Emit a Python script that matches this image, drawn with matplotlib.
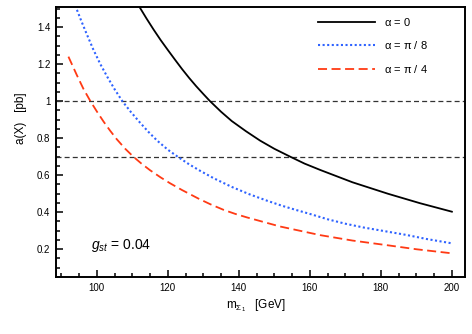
import numpy as np
import matplotlib
matplotlib.use('Agg')
import matplotlib.pyplot as plt
from matplotlib.ticker import MultipleLocator, FuncFormatter

plt.rcParams['font.family'] = ['Liberation Sans', 'DejaVu Sans']
plt.rcParams['mathtext.fontset'] = 'custom'
plt.rcParams['mathtext.rm'] = 'Liberation Sans'
plt.rcParams['mathtext.it'] = 'Liberation Sans:italic'

# curves (mass in GeV, a(X) in pb)
m_a0 = [112.0, 114.0, 116.0, 118.0, 120.0, 122.0, 124.0, 126.0, 128.0, 130.0, 131.8, 135.0, 138.0,
        142.0, 146.0, 150.0, 154.5, 158.5, 163.0, 172.0, 182.0, 191.0, 200.0]
a_a0 = [1.51, 1.447, 1.387, 1.33, 1.277, 1.225, 1.174, 1.126, 1.081, 1.039, 1.002, 0.943, 0.893,
        0.838, 0.787, 0.743, 0.70, 0.663, 0.628, 0.562, 0.50, 0.449, 0.403]

m_a8 = [94.4, 95.5, 97.0, 99.0, 101.0, 103.0, 105.0, 107.2, 109.5, 112.0, 114.5, 117.0, 120.0, 123.0,
        126.0, 129.0, 133.0, 138.0, 143.0, 148.0, 152.0, 156.0, 160.0, 165.0, 170.0, 175.0, 181.0,
        187.0, 193.0, 200.0]
a_a8 = [1.494, 1.44, 1.37, 1.28, 1.2, 1.13, 1.065, 1.0, 0.944, 0.888, 0.835, 0.787, 0.738, 0.697,
        0.659, 0.625, 0.583, 0.537, 0.497, 0.462, 0.436, 0.413, 0.391, 0.362, 0.338, 0.318, 0.298,
        0.278, 0.255, 0.232]

m_a4 = [92.0, 94.4, 96.2, 98.2, 100.0, 101.9, 103.7, 105.6, 108.0, 110.3, 112.5, 115.0, 118.0, 120.6,
        124.0, 128.6, 132.0, 135.7, 139.0, 142.3, 151.6, 163.0, 172.0, 181.7, 190.0, 200.0]
a_a4 = [1.241, 1.14, 1.068, 1.0, 0.945, 0.89, 0.842, 0.795, 0.743, 0.70, 0.664, 0.627, 0.588, 0.557,
        0.52, 0.474, 0.443, 0.413, 0.391, 0.372, 0.323, 0.276, 0.247, 0.222, 0.20, 0.178]

ref_levels = [1.0, 0.7]

fig = plt.figure(figsize=(4.72, 3.34), dpi=100)
ax = fig.add_axes([56 / 472, 1 - 277 / 334, (465 - 56) / 472, (277 - 6.7) / 334])

for y in ref_levels:
    ax.axhline(y, color='#333333', lw=0.9, dashes=(4, 2.5))

ax.plot(m_a0, a_a0, color='black', lw=1.3, label=r'$\mathrm{\alpha}$ = 0')
ax.plot(m_a8, a_a8, color='#2f63ff', lw=1.5, ls=(0, (1, 1.2)), label=r'$\mathrm{\alpha}$ = $\mathrm{\pi}$ / 8')
ax.plot(m_a4, a_a4, color='#ff3a14', lw=1.3, dashes=(5, 2.5), label=r'$\mathrm{\alpha}$ = $\mathrm{\pi}$ / 4')

ax.set_xlim(88.5, 203.7)
ax.set_ylim(0.05, 1.511)

ax.xaxis.set_major_locator(MultipleLocator(20))
ax.xaxis.set_minor_locator(MultipleLocator(5))
ax.yaxis.set_major_locator(MultipleLocator(0.2))
ax.yaxis.set_minor_locator(MultipleLocator(0.05))
ax.yaxis.set_major_formatter(FuncFormatter(lambda v, p: '%g' % round(v, 2)))

ax.tick_params(which='both', direction='in', top=False, right=False, labelsize=7, width=1.1)
ax.tick_params(which='major', length=5, pad=4)
ax.tick_params(which='minor', length=3)
for s in ax.spines.values():
    s.set_linewidth(1.4)

fig.text(21 / 472, 1 - 118 / 334, 'a(X)   [pb]', rotation=90, fontsize=8.5, ha='center', va='center')
fig.text(256 / 472, 1 - 306 / 334, r'm$_{\Sigma_1}$   [GeV]', fontsize=8.5, ha='center', va='center')
fig.text(91 / 472, 1 - 245 / 334, r'$g_{st}$ = 0.04', fontsize=10, ha='left', va='center')

ax.legend(loc='upper left', bbox_to_anchor=(317.7 / 472, 1 - 15.5 / 334), bbox_transform=fig.transFigure,
          frameon=False, fontsize=8, handlelength=5.2, handletextpad=0.8, labelspacing=1.05,
          borderpad=0, borderaxespad=0)

plt.savefig('out.png', dpi=100)
